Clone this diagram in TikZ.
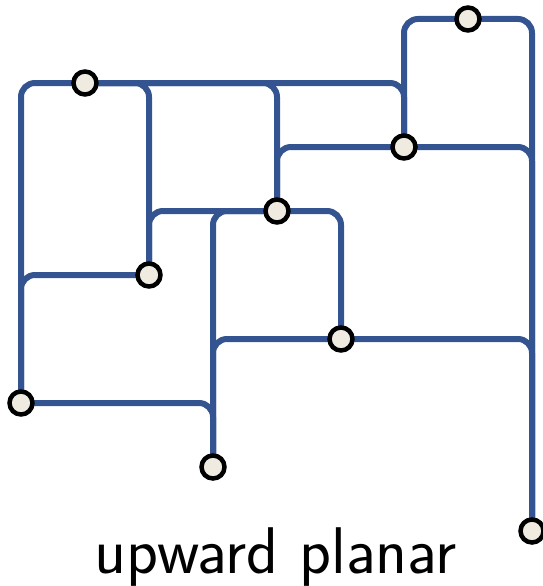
\documentclass[tikz,border=0pt]{standalone}
\usepackage{tikz}
\definecolor{edgeblue}{RGB}{52,84,145}
\definecolor{vfill}{RGB}{239,235,224}
\tikzset{
  vtx/.style={circle, draw=black, fill=vfill, line width=4.5pt, minimum size=23pt, inner sep=0pt},
  edg/.style={draw=edgeblue, line width=6pt, rounded corners=14pt},
}
\begin{document}
\begin{tikzpicture}[x=1pt,y=-1pt]
\useasboundingbox (0,0) rectangle (542,586);
% vertex coordinates
\coordinate (A) at (468,19);
\coordinate (B) at (85,83);
\coordinate (C) at (404,147);
\coordinate (D) at (277,211);
\coordinate (E) at (149,275);
\coordinate (F) at (341,339);
\coordinate (G) at (21,403);
\coordinate (H) at (213,467);
\coordinate (I) at (532,531);
% edges: vertical from lower vertex, then horizontal to upper vertex
\foreach \lo/\hi in {H/G,H/F,H/D,I/F,I/C,I/A,G/E,G/B,F/D,E/D,E/B,D/C,D/B,C/B,C/A}
  \draw[edg] (\lo) |- (\hi);
% vertices
\foreach \v in {A,B,C,D,E,F,G,H,I}
  \node[vtx] (n\v) at (\v) {};
\node[anchor=base, font=\sffamily\fontsize{66}{66}\selectfont] (lbl) at (276,573) {upward planar};
\end{tikzpicture}
\end{document}
